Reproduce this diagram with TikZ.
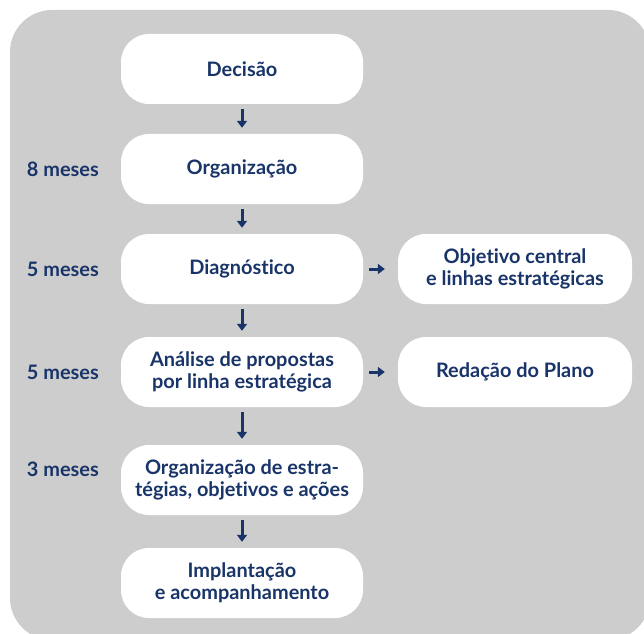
\documentclass[tikz,border=0pt]{standalone}
\usepackage{fontspec}
\setmainfont{Lato}[Ligatures=NoCommon]
\usepackage{xcolor}
\usetikzlibrary{arrows.meta,positioning}
\definecolor{navy}{RGB}{24,52,104}
\definecolor{panel}{RGB}{205,205,205}

\begin{document}
\begin{tikzpicture}[x=1bp,y=-1bp,
  etapa/.style={fill=white,rounded corners=28bp,minimum width=242bp,minimum height=70bp,inner sep=0pt,align=center,text=navy,font=\bfseries\fontsize{20}{22}\selectfont},
  prazo/.style={anchor=east,inner sep=0pt,text=navy,font=\bfseries\fontsize{20}{22}\selectfont},
  seta/.style={-{Triangle[length=7bp,width=10bp]},line width=3bp,navy}]
  \useasboundingbox (0,0) rectangle (644,634);
  \begin{scope}
    \clip (0,0) rectangle (644,634);
    \fill[panel,rounded corners=42bp] (10,10) rectangle (650,640);
  \end{scope}
  \node[etapa] (decisao) at (242,69) {Decisão};
  \node[etapa] (organiza) at (242,169) {Organização};
  \node[etapa] (diagnostico) at (242,269) {Diagnóstico};
  \node[etapa] (analise) at (242,372) {Análise de propostas\\por linha estratégica};
  \node[etapa] (estrategias) at (242,480) {Organização de estra-\\tégias, objetivos e ações};
  \node[etapa] (implanta) at (242,583) {Implantação\\e acompanhamento};
  \node[etapa,minimum width=234bp] (objetivo) at (515,269) {Objetivo central\\e linhas estratégicas};
  \node[etapa,minimum width=234bp] (redacao) at (515,372) {Redação do Plano};
  \node[prazo] (m8) at (99,169) {8 meses};
  \node[prazo] (m5a) at (99,269) {5 meses};
  \node[prazo] (m5b) at (99,372) {5 meses};
  \node[prazo] (m3) at (99,469) {3 meses};
  \draw[seta,shorten <=5bp,shorten >=6bp] (decisao) -- (organiza);
  \draw[seta,shorten <=5bp,shorten >=6bp] (organiza) -- (diagnostico);
  \draw[seta,shorten <=5bp,shorten >=6bp] (diagnostico) -- (analise);
  \draw[seta,shorten <=5bp,shorten >=6bp] (analise) -- (estrategias);
  \draw[seta,shorten <=5bp,shorten >=6bp] (estrategias) -- (implanta);
  \draw[seta,shorten <=6bp,shorten >=13bp] (diagnostico) -- (objetivo);
  \draw[seta,shorten <=6bp,shorten >=13bp] (analise) -- (redacao);
\end{tikzpicture}
\end{document}
